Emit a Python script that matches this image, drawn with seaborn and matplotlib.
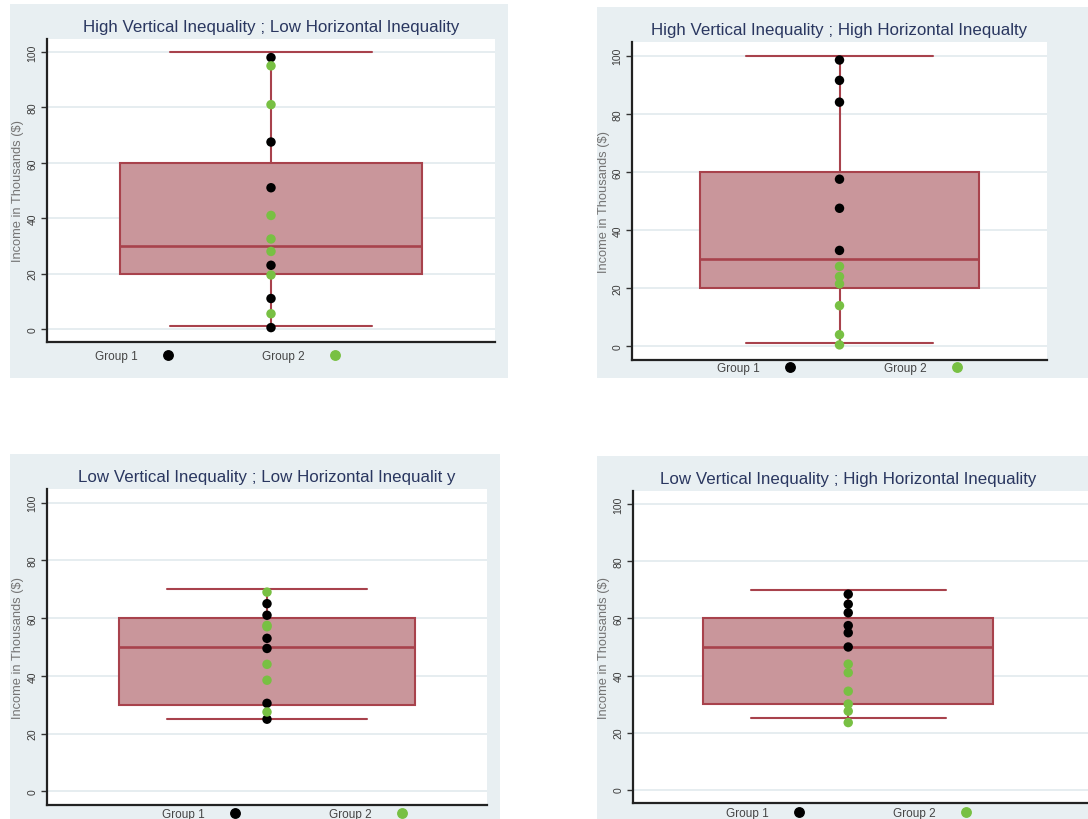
import pandas as pd
import numpy as np
import matplotlib
matplotlib.use('Agg')
import matplotlib.pyplot as plt
from matplotlib.patches import Rectangle
from matplotlib.lines import Line2D
import seaborn as sns

# valores (renda em milhares)
titulos = [
    'High Vertical Inequality ; Low Horizontal Inequality',
    'High Vertical Inequality ; High Horizontal Inequalty',
    'Low Vertical Inequality ; Low Horizontal Inequalit y',
    'Low Vertical Inequality ; High Horizontal Inequality',
]
grupos = ['Group 1', 'Group 2']

p1_grupo1 = [98, 67.5, 51, 23, 11, 0.5]
p1_grupo2 = [95, 81, 41, 32.5, 28, 19.5, 5.5]
p2_grupo1 = [98.5, 91.5, 84, 57.5, 47.5, 33]
p2_grupo2 = [27.5, 24, 21.5, 14, 4, 0.5]
p3_grupo1 = [65, 61, 53, 49.5, 30.5, 25]
p3_grupo2 = [69, 57.5, 57, 44, 38.5, 27.5]
p4_grupo1 = [68.5, 65, 62, 57.5, 55, 50]
p4_grupo2 = [44, 41, 34.5, 30, 27.5, 23.5]

# estatisticas da caixa: bigode inferior, Q1, mediana, Q3, bigode superior
caixa_alta_vertical = [1, 20, 30, 60, 100]
caixa_baixa_vertical = [25, 30, 50, 60, 70]

yticks = [0, 20, 40, 60, 80, 100]

W, H = 1088, 820

# layout em pixels: fundo, eixos (x0, y0, x1, y1), inicio da legenda, xlim
paineis = [
    dict(g1=p1_grupo1, g2=p1_grupo2, caixa=caixa_alta_vertical,
         fundo=(10, 5, 508, 379), eixo=(47, 40, 495, 343), leg=(95, 357), xlim=(-0.5, 0.5)),
    dict(g1=p2_grupo1, g2=p2_grupo2, caixa=caixa_alta_vertical,
         fundo=(597, 8, 1100, 379), eixo=(632, 43, 1047, 361), leg=(717, 369), xlim=(-0.5, 0.5)),
    dict(g1=p3_grupo1, g2=p3_grupo2, caixa=caixa_baixa_vertical,
         fundo=(10, 455, 500, 830), eixo=(47, 490, 487, 806), leg=(162, 815), xlim=(-0.5, 0.5)),
    dict(g1=p4_grupo1, g2=p4_grupo2, caixa=caixa_baixa_vertical,
         fundo=(597, 457, 1100, 830), eixo=(633, 492, 1088, 804), leg=(726, 814), xlim=(-0.5, 0.557)),
]

cor_fundo = '#e8eff2'
cor_caixa = '#c9969b'
cor_borda = '#a8424c'
cor_verde = '#78c043'
cores = {'Group 1': 'black', 'Group 2': cor_verde}

sns.set_theme(style='white')
plt.rcParams['font.family'] = ['Liberation Sans', 'DejaVu Sans']

fig = plt.figure(figsize=(W / 100, H / 100), dpi=100)


def px_para_fig(x0, y0, x1, y1):
    return [x0 / W, 1 - y1 / H, (x1 - x0) / W, (y1 - y0) / H]


for i, p in enumerate(paineis):
    fx, fy, fw, fh = px_para_fig(*p['fundo'])
    fig.patches.append(Rectangle((fx, fy), fw, fh, transform=fig.transFigure,
                                 facecolor=cor_fundo, edgecolor='none', zorder=-5))

    ax = fig.add_axes(px_para_fig(*p['eixo']))
    ax.set_facecolor('white')

    sns.boxplot(y=p['caixa'], ax=ax, width=0.674, whis=1.5, saturation=1,
                color=cor_caixa, linecolor=cor_borda, linewidth=1.5,
                capwidths=[0.453], medianprops=dict(linewidth=1.9))

    df = pd.DataFrame({
        'income': p['g1'] + p['g2'],
        'group': ['Group 1'] * len(p['g1']) + ['Group 2'] * len(p['g2']),
    })
    sns.stripplot(data=df, y='income', hue='group', hue_order=grupos, palette=cores,
                  jitter=False, size=6.8, linewidth=0, legend=False, ax=ax, zorder=5)

    ax.set_xlim(*p['xlim'])
    ax.set_ylim(-4.7, 104.7)
    ax.set_xticks([])
    ax.set_xlabel('')
    ax.set_yticks(yticks)
    ax.set_yticklabels([str(t) for t in yticks], rotation=90, va='center')
    ax.tick_params(axis='y', length=4, width=1, pad=3, labelsize=7.5,
                   labelcolor='#3a3a3a', color='#333333', left=True)
    ax.set_ylabel('Income in Thousands ($)', fontsize=9.3, color='#747474', labelpad=2)
    ax.yaxis.grid(True, color='#e1eaee', linewidth=1.2)
    ax.set_axisbelow(True)
    for lado in ['top', 'right']:
        ax.spines[lado].set_visible(False)
    for lado in ['left', 'bottom']:
        ax.spines[lado].set_color('#222222')
        ax.spines[lado].set_linewidth(1.6)

    # titulo centralizado sobre a caixa
    x0, x1 = p['xlim']
    ax.set_title(titulos[i], fontsize=12.2, color='#2a3760', x=(0 - x0) / (x1 - x0), pad=6)

    # legenda abaixo do eixo: texto seguido do marcador
    handles = [Line2D([], [], marker='o', ls='', color=cores[g], markersize=6.8) for g in grupos]
    ex0, ey0, ex1, ey1 = p['eixo']
    lx, ly = p['leg']
    ax.legend(handles, grupos, loc='center left', ncol=2, markerfirst=False, frameon=False,
              bbox_to_anchor=((lx - ex0) / (ex1 - ex0), (ey1 - ly) / (ey1 - ey0)),
              borderpad=0, borderaxespad=0, handlelength=1, handletextpad=2.1,
              columnspacing=7.4, fontsize=8.5, labelcolor='#444444')

fig.savefig('out.png', dpi=100, facecolor='white')
